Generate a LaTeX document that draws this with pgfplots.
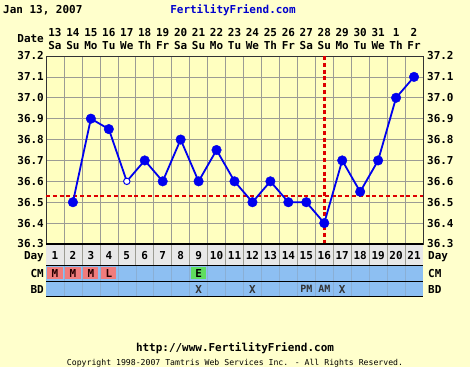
\documentclass[border=0pt]{standalone}
\usepackage{pgfplots}
\usepackage{pgfplotstable}
\pgfplotsset{compat=1.18}
\usepackage{fontspec}
\setmainfont{DejaVu Sans Mono}
\definecolor{bg}{HTML}{FFFFCC}
\definecolor{plotbg}{HTML}{FFFFC0}
\definecolor{gridc}{HTML}{9C9C94}
\definecolor{daybg}{HTML}{E8E8E8}
\definecolor{cmblue}{HTML}{8DBFF2}
\definecolor{mred}{HTML}{F07C7C}
\definecolor{egreen}{HTML}{5FDD5F}
\definecolor{ffblue}{HTML}{0000CC}
\definecolor{lineblue}{HTML}{0000EE}
\definecolor{cover}{HTML}{DD0000}
\newcommand{\bigf}{\bfseries\fontsize{11}{12}\selectfont}
\newcommand{\smallf}{\fontsize{8.2}{9}\selectfont}

\pgfplotstableread{
day temp
2 36.50
3 36.90
4 36.85
5 36.60
6 36.70
7 36.60
8 36.80
9 36.60
10 36.75
11 36.60
12 36.50
13 36.60
14 36.50
15 36.50
16 36.40
17 36.70
18 36.55
19 36.70
20 37.00
21 37.10
}\alltemps

\pgfplotstableread{
day temp
2 36.50
3 36.90
4 36.85
6 36.70
7 36.60
8 36.80
9 36.60
10 36.75
11 36.60
12 36.50
13 36.60
14 36.50
15 36.50
16 36.40
17 36.70
18 36.55
19 36.70
20 37.00
21 37.10
}\filledtemps

\newcommand{\dlab}[3]{%
  \node[font=\bigf, inner sep=0pt, anchor=base] at ([yshift=19bp]axis cs:#1,37.2) {#2};
  \node[font=\bigf, inner sep=0pt, anchor=base] at ([yshift=6bp]axis cs:#1,37.2) {#3};}
\newcommand{\cell}[3]{% day, row yshift top, color
  \fill[#3] ([xshift=-7.6bp,yshift=#2]axis cs:#1,36.3) rectangle ([xshift=7.6bp,yshift=#2-12.5bp]axis cs:#1,36.3);}
\newcommand{\hl}[1]{%
  \draw[black, line width=0.9bp] ([yshift=#1]axis cs:0.5,36.3) -- ([yshift=#1]axis cs:21.5,36.3);}

\begin{document}
\begin{tikzpicture}
\useasboundingbox (0bp,0bp) rectangle (470bp,367bp);
\fill[bg] (0bp,0bp) rectangle (470bp,367bp);
\node[anchor=base west, font=\bigf, inner sep=0pt] at (3bp,353bp) {Jan 13, 2007};
\node[anchor=base, font=\bigf, text=ffblue, inner sep=0pt] at (233bp,353bp) {FertilityFriend.com};
\node[anchor=base, font=\bigf, inner sep=0pt] at (235bp,16bp) {http://www.FertilityFriend.com};
\node[anchor=base, font=\smallf, inner sep=0pt] at (235bp,1.2bp) {Copyright 1998-2007 Tamtris Web Services Inc. - All Rights Reserved.};

\begin{axis}[
  at={(46bp,123bp)}, anchor=south west,
  scale only axis, width=377bp, height=188bp,
  xmin=0.5, xmax=21.5, ymin=36.3, ymax=37.2,
  axis background/.style={fill=plotbg},
  xtick={0.5,1.5,...,21.5}, xticklabels={},
  ytick={36.3,36.4,36.5,36.6,36.7,36.8,36.9,37.0,37.1,37.2},
  grid=major, major grid style={gridc, line width=0.6bp},
  tick style={draw=none},
  axis line style={black!80, line width=0.8bp},
  /pgf/number format/assume math mode=true,
  yticklabel style={font=\bigf, inner sep=0pt, xshift=-2bp,
    /pgf/number format/fixed, /pgf/number format/fixed zerofill,
    /pgf/number format/precision=1},
  clip=false,
]
% coverline
\addplot[cover, line width=2.8bp, dash pattern=on 4bp off 2.8bp] coordinates {(0.5,36.53) (21.5,36.53)};
\addplot[cover, line width=2.8bp, dash pattern=on 4bp off 2.8bp] coordinates {(16,37.2) (16,36.3)};
% temperatures
\addplot[lineblue, line width=1.8bp, no marks] table[x=day, y=temp] {\alltemps};
\addplot[only marks, mark=*, mark size=4.8bp, mark options={draw=lineblue, fill=lineblue}] table[x=day, y=temp] {\filledtemps};
\addplot[only marks, mark=*, mark size=3.2bp, mark options={draw=lineblue, fill=white, line width=1bp}] coordinates {(5,36.6)};

% date header
\node[font=\bigf, anchor=base east, inner sep=0pt] at ([xshift=-2bp,yshift=13bp]axis cs:0.5,37.2) {Date};
\dlab{1}{13}{Sa}\dlab{2}{14}{Su}\dlab{3}{15}{Mo}\dlab{4}{16}{Tu}\dlab{5}{17}{We}
\dlab{6}{18}{Th}\dlab{7}{19}{Fr}\dlab{8}{20}{Sa}\dlab{9}{21}{Su}\dlab{10}{22}{Mo}
\dlab{11}{23}{Tu}\dlab{12}{24}{We}\dlab{13}{25}{Th}\dlab{14}{26}{Fr}\dlab{15}{27}{Sa}
\dlab{16}{28}{Su}\dlab{17}{29}{Mo}\dlab{18}{30}{Tu}\dlab{19}{31}{We}\dlab{20}{1}{Th}
\dlab{21}{2}{Fr}

% table rows
\fill[daybg] (axis cs:0.5,36.3) rectangle ([yshift=-21.5bp]axis cs:21.5,36.3);
\fill[cmblue] ([yshift=-21.5bp]axis cs:0.5,36.3) rectangle ([yshift=-52bp]axis cs:21.5,36.3);
\pgfplotsinvokeforeach{1,...,20}{
  \draw[gridc, line width=0.6bp] (axis cs:#1.5,36.3) -- ([yshift=-21.5bp]axis cs:#1.5,36.3);
  \draw[cmblue!75!gray, line width=0.5bp] ([yshift=-21.5bp]axis cs:#1.5,36.3) -- ([yshift=-52bp]axis cs:#1.5,36.3);
}
\cell{1}{-23bp}{mred}\cell{2}{-23bp}{mred}\cell{3}{-23bp}{mred}\cell{4}{-23bp}{mred}
\cell{9}{-23bp}{egreen}
\hl{-21.5bp}\hl{-37bp}\hl{-52bp}
\draw[black, line width=1.2bp] (axis cs:0.5,36.3) -- (axis cs:21.5,36.3);
\pgfplotsinvokeforeach{1,...,21}{
  \node[font=\bigf, inner sep=0pt, anchor=base] at ([yshift=-16bp]axis cs:#1,36.3) {#1};
}
\node[font=\bigf, anchor=base east, inner sep=0pt] at ([xshift=-2bp,yshift=-16bp]axis cs:0.5,36.3) {Day};
\node[font=\bigf, anchor=base east, inner sep=0pt] at ([xshift=-2bp,yshift=-33.5bp]axis cs:0.5,36.3) {CM};
\node[font=\bigf, anchor=base east, inner sep=0pt] at ([xshift=-2bp,yshift=-49bp]axis cs:0.5,36.3) {BD};
\node[font=\bigf, anchor=base west, inner sep=0pt] at ([xshift=5bp,yshift=-16bp]axis cs:21.5,36.3) {Day};
\node[font=\bigf, anchor=base west, inner sep=0pt] at ([xshift=5bp,yshift=-33.5bp]axis cs:21.5,36.3) {CM};
\node[font=\bigf, anchor=base west, inner sep=0pt] at ([xshift=5bp,yshift=-49bp]axis cs:21.5,36.3) {BD};
% CM entries
\node[font=\bigf, text=black!85!red, inner sep=0pt, anchor=base] at ([yshift=-33.5bp]axis cs:1,36.3) {M};
\node[font=\bigf, text=black!85!red, inner sep=0pt, anchor=base] at ([yshift=-33.5bp]axis cs:2,36.3) {M};
\node[font=\bigf, text=black!85!red, inner sep=0pt, anchor=base] at ([yshift=-33.5bp]axis cs:3,36.3) {M};
\node[font=\bigf, text=black!85!red, inner sep=0pt, anchor=base] at ([yshift=-33.5bp]axis cs:4,36.3) {L};
\node[font=\bigf, inner sep=0pt, anchor=base] at ([yshift=-33.5bp]axis cs:9,36.3) {E};
% BD entries
\node[font=\bigf, text=black!80, inner sep=0pt, anchor=base] at ([yshift=-49bp]axis cs:9,36.3) {X};
\node[font=\bigf, text=black!80, inner sep=0pt, anchor=base] at ([yshift=-49bp]axis cs:12,36.3) {X};
\node[font=\bfseries\fontsize{10}{11}\selectfont, text=black!80, inner sep=0pt, anchor=base] at ([yshift=-48.6bp]axis cs:15,36.3) {PM};
\node[font=\bfseries\fontsize{10}{11}\selectfont, text=black!80, inner sep=0pt, anchor=base] at ([yshift=-48.6bp]axis cs:16,36.3) {AM};
\node[font=\bigf, text=black!80, inner sep=0pt, anchor=base] at ([yshift=-49bp]axis cs:17,36.3) {X};
\end{axis}

\begin{axis}[
  at={(46bp,123bp)}, anchor=south west,
  scale only axis, width=377bp, height=188bp,
  xmin=0.5, xmax=21.5, ymin=36.3, ymax=37.2,
  xtick=\empty,
  ytick={36.3,36.4,36.5,36.6,36.7,36.8,36.9,37.0,37.1,37.2},
  yticklabel pos=right,
  axis line style={draw=none}, tick style={draw=none},
  /pgf/number format/assume math mode=true,
  yticklabel style={font=\bigf, inner sep=0pt, xshift=4bp,
    /pgf/number format/fixed, /pgf/number format/fixed zerofill,
    /pgf/number format/precision=1},
]
\end{axis}
\end{tikzpicture}
\end{document}
